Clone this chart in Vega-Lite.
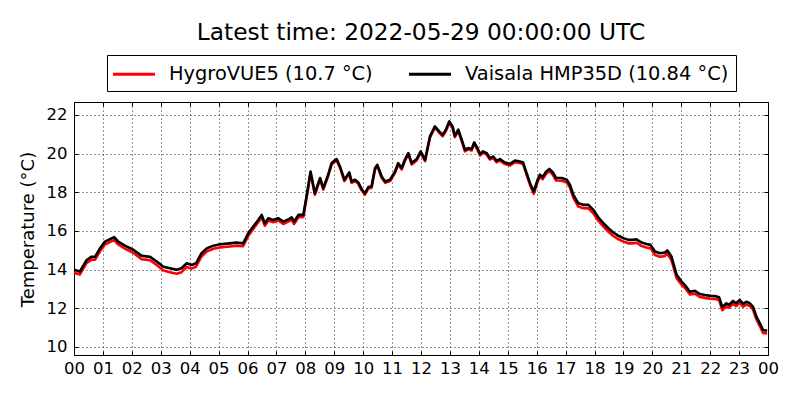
{
  "$schema": "https://vega.github.io/schema/vega-lite/v6.json",
  "autosize": {"type": "none"},
  "width": 694,
  "height": 253,
  "padding": {"left": 74, "top": 102, "right": 32, "bottom": 45},
  "background": "white",
  "config": {
    "font": "DejaVu Sans",
    "view": {"stroke": "black", "strokeWidth": 1}
  },
  "title": {
    "text": "Latest time: 2022-05-29 00:00:00 UTC",
    "fontSize": 23.3,
    "fontWeight": "normal",
    "color": "black",
    "anchor": "middle",
    "baseline": "alphabetic",
    "offset": -9
  },
  "data": {
    "values": [
      {"hour": 0.0, "hygrovue": 13.84, "vaisala": 13.99},
      {"hour": 0.2, "hygrovue": 13.75, "vaisala": 13.9},
      {"hour": 0.44, "hygrovue": 14.35, "vaisala": 14.5},
      {"hour": 0.61, "hygrovue": 14.52, "vaisala": 14.67},
      {"hour": 0.73, "hygrovue": 14.52, "vaisala": 14.67},
      {"hour": 0.9, "hygrovue": 14.95, "vaisala": 15.1},
      {"hour": 1.07, "hygrovue": 15.3, "vaisala": 15.45},
      {"hour": 1.24, "hygrovue": 15.42, "vaisala": 15.57},
      {"hour": 1.39, "hygrovue": 15.53, "vaisala": 15.68},
      {"hour": 1.53, "hygrovue": 15.3, "vaisala": 15.45},
      {"hour": 1.76, "hygrovue": 15.09, "vaisala": 15.24},
      {"hour": 2.05, "hygrovue": 14.87, "vaisala": 15.03},
      {"hour": 2.34, "hygrovue": 14.54, "vaisala": 14.71},
      {"hour": 2.63, "hygrovue": 14.49, "vaisala": 14.67},
      {"hour": 2.86, "hygrovue": 14.24, "vaisala": 14.42},
      {"hour": 3.09, "hygrovue": 13.96, "vaisala": 14.15},
      {"hour": 3.32, "hygrovue": 13.87, "vaisala": 14.07},
      {"hour": 3.55, "hygrovue": 13.79, "vaisala": 13.99},
      {"hour": 3.72, "hygrovue": 13.87, "vaisala": 14.07},
      {"hour": 3.9, "hygrovue": 14.14, "vaisala": 14.33},
      {"hour": 4.07, "hygrovue": 14.05, "vaisala": 14.24},
      {"hour": 4.22, "hygrovue": 14.15, "vaisala": 14.33},
      {"hour": 4.41, "hygrovue": 14.68, "vaisala": 14.85},
      {"hour": 4.59, "hygrovue": 14.94, "vaisala": 15.1},
      {"hour": 4.82, "hygrovue": 15.08, "vaisala": 15.24},
      {"hour": 5.05, "hygrovue": 15.15, "vaisala": 15.31},
      {"hour": 5.39, "hygrovue": 15.2, "vaisala": 15.36},
      {"hour": 5.62, "hygrovue": 15.24, "vaisala": 15.4},
      {"hour": 5.85, "hygrovue": 15.21, "vaisala": 15.36},
      {"hour": 6.03, "hygrovue": 15.76, "vaisala": 15.89},
      {"hour": 6.2, "hygrovue": 16.1, "vaisala": 16.23},
      {"hour": 6.37, "hygrovue": 16.45, "vaisala": 16.57},
      {"hour": 6.49, "hygrovue": 16.71, "vaisala": 16.83},
      {"hour": 6.6, "hygrovue": 16.27, "vaisala": 16.4},
      {"hour": 6.72, "hygrovue": 16.54, "vaisala": 16.66},
      {"hour": 6.89, "hygrovue": 16.45, "vaisala": 16.57},
      {"hour": 7.06, "hygrovue": 16.54, "vaisala": 16.66},
      {"hour": 7.24, "hygrovue": 16.36, "vaisala": 16.48},
      {"hour": 7.41, "hygrovue": 16.48, "vaisala": 16.6},
      {"hour": 7.53, "hygrovue": 16.58, "vaisala": 16.7},
      {"hour": 7.61, "hygrovue": 16.36, "vaisala": 16.48},
      {"hour": 7.76, "hygrovue": 16.71, "vaisala": 16.83},
      {"hour": 7.93, "hygrovue": 16.72, "vaisala": 16.83},
      {"hour": 8.07, "hygrovue": 17.95, "vaisala": 18.04},
      {"hour": 8.18, "hygrovue": 18.99, "vaisala": 19.07},
      {"hour": 8.33, "hygrovue": 17.87, "vaisala": 17.95},
      {"hour": 8.51, "hygrovue": 18.67, "vaisala": 18.74},
      {"hour": 8.62, "hygrovue": 18.14, "vaisala": 18.21},
      {"hour": 8.79, "hygrovue": 18.84, "vaisala": 18.91},
      {"hour": 8.91, "hygrovue": 19.44, "vaisala": 19.51},
      {"hour": 9.08, "hygrovue": 19.65, "vaisala": 19.72},
      {"hour": 9.2, "hygrovue": 19.26, "vaisala": 19.33},
      {"hour": 9.35, "hygrovue": 18.58, "vaisala": 18.65},
      {"hour": 9.52, "hygrovue": 18.96, "vaisala": 19.03},
      {"hour": 9.6, "hygrovue": 18.49, "vaisala": 18.56},
      {"hour": 9.72, "hygrovue": 18.58, "vaisala": 18.65},
      {"hour": 9.83, "hygrovue": 18.44, "vaisala": 18.51},
      {"hour": 9.95, "hygrovue": 18.09, "vaisala": 18.16},
      {"hour": 10.06, "hygrovue": 17.88, "vaisala": 17.95},
      {"hour": 10.18, "hygrovue": 18.2, "vaisala": 18.27},
      {"hour": 10.29, "hygrovue": 18.23, "vaisala": 18.3},
      {"hour": 10.41, "hygrovue": 19.18, "vaisala": 19.25},
      {"hour": 10.49, "hygrovue": 19.35, "vaisala": 19.42},
      {"hour": 10.64, "hygrovue": 18.75, "vaisala": 18.82},
      {"hour": 10.76, "hygrovue": 18.49, "vaisala": 18.56},
      {"hour": 10.93, "hygrovue": 18.58, "vaisala": 18.65},
      {"hour": 11.1, "hygrovue": 19.0, "vaisala": 19.07},
      {"hour": 11.21, "hygrovue": 19.44, "vaisala": 19.51},
      {"hour": 11.33, "hygrovue": 19.18, "vaisala": 19.25},
      {"hour": 11.44, "hygrovue": 19.61, "vaisala": 19.68},
      {"hour": 11.56, "hygrovue": 19.96, "vaisala": 20.03},
      {"hour": 11.68, "hygrovue": 19.44, "vaisala": 19.51},
      {"hour": 11.85, "hygrovue": 19.65, "vaisala": 19.72},
      {"hour": 11.99, "hygrovue": 20.05, "vaisala": 20.12},
      {"hour": 12.14, "hygrovue": 19.61, "vaisala": 19.68},
      {"hour": 12.31, "hygrovue": 20.82, "vaisala": 20.89},
      {"hour": 12.48, "hygrovue": 21.34, "vaisala": 21.41},
      {"hour": 12.63, "hygrovue": 21.08, "vaisala": 21.15},
      {"hour": 12.75, "hygrovue": 20.9, "vaisala": 20.97},
      {"hour": 12.86, "hygrovue": 21.17, "vaisala": 21.24},
      {"hour": 12.98, "hygrovue": 21.6, "vaisala": 21.67},
      {"hour": 13.09, "hygrovue": 21.34, "vaisala": 21.41},
      {"hour": 13.17, "hygrovue": 20.85, "vaisala": 20.92},
      {"hour": 13.29, "hygrovue": 21.17, "vaisala": 21.24},
      {"hour": 13.41, "hygrovue": 20.64, "vaisala": 20.71},
      {"hour": 13.52, "hygrovue": 20.12, "vaisala": 20.2},
      {"hour": 13.63, "hygrovue": 20.22, "vaisala": 20.29},
      {"hour": 13.75, "hygrovue": 20.16, "vaisala": 20.24},
      {"hour": 13.84, "hygrovue": 20.51, "vaisala": 20.58},
      {"hour": 13.95, "hygrovue": 20.21, "vaisala": 20.29},
      {"hour": 14.04, "hygrovue": 19.9, "vaisala": 19.98},
      {"hour": 14.15, "hygrovue": 20.05, "vaisala": 20.12},
      {"hour": 14.27, "hygrovue": 19.95, "vaisala": 20.03},
      {"hour": 14.38, "hygrovue": 19.7, "vaisala": 19.77},
      {"hour": 14.5, "hygrovue": 19.77, "vaisala": 19.85},
      {"hour": 14.61, "hygrovue": 19.55, "vaisala": 19.63},
      {"hour": 14.73, "hygrovue": 19.64, "vaisala": 19.72},
      {"hour": 14.9, "hygrovue": 19.46, "vaisala": 19.54},
      {"hour": 15.08, "hygrovue": 19.39, "vaisala": 19.47},
      {"hour": 15.25, "hygrovue": 19.56, "vaisala": 19.64},
      {"hour": 15.42, "hygrovue": 19.51, "vaisala": 19.59},
      {"hour": 15.53, "hygrovue": 19.46, "vaisala": 19.54},
      {"hour": 15.65, "hygrovue": 18.91, "vaisala": 19.0},
      {"hour": 15.77, "hygrovue": 18.38, "vaisala": 18.47},
      {"hour": 15.9, "hygrovue": 17.92, "vaisala": 18.04},
      {"hour": 16.03, "hygrovue": 18.53, "vaisala": 18.64},
      {"hour": 16.11, "hygrovue": 18.8, "vaisala": 18.91},
      {"hour": 16.21, "hygrovue": 18.68, "vaisala": 18.79},
      {"hour": 16.33, "hygrovue": 18.96, "vaisala": 19.08},
      {"hour": 16.44, "hygrovue": 19.09, "vaisala": 19.21},
      {"hour": 16.56, "hygrovue": 18.9, "vaisala": 19.03},
      {"hour": 16.67, "hygrovue": 18.61, "vaisala": 18.74},
      {"hour": 16.87, "hygrovue": 18.6, "vaisala": 18.74},
      {"hour": 17.04, "hygrovue": 18.5, "vaisala": 18.65},
      {"hour": 17.15, "hygrovue": 18.24, "vaisala": 18.39},
      {"hour": 17.27, "hygrovue": 17.71, "vaisala": 17.87},
      {"hour": 17.44, "hygrovue": 17.26, "vaisala": 17.43},
      {"hour": 17.61, "hygrovue": 17.18, "vaisala": 17.35},
      {"hour": 17.79, "hygrovue": 17.17, "vaisala": 17.35},
      {"hour": 17.96, "hygrovue": 16.91, "vaisala": 17.09},
      {"hour": 18.13, "hygrovue": 16.53, "vaisala": 16.71},
      {"hour": 18.31, "hygrovue": 16.22, "vaisala": 16.4},
      {"hour": 18.48, "hygrovue": 15.96, "vaisala": 16.14},
      {"hour": 18.65, "hygrovue": 15.74, "vaisala": 15.92},
      {"hour": 18.83, "hygrovue": 15.57, "vaisala": 15.75},
      {"hour": 19.0, "hygrovue": 15.45, "vaisala": 15.63},
      {"hour": 19.17, "hygrovue": 15.36, "vaisala": 15.54},
      {"hour": 19.34, "hygrovue": 15.36, "vaisala": 15.54},
      {"hour": 19.45, "hygrovue": 15.39, "vaisala": 15.57},
      {"hour": 19.63, "hygrovue": 15.22, "vaisala": 15.4},
      {"hour": 19.8, "hygrovue": 15.15, "vaisala": 15.33},
      {"hour": 19.94, "hygrovue": 15.1, "vaisala": 15.28},
      {"hour": 20.09, "hygrovue": 14.76, "vaisala": 14.94},
      {"hour": 20.26, "hygrovue": 14.67, "vaisala": 14.85},
      {"hour": 20.43, "hygrovue": 14.7, "vaisala": 14.88},
      {"hour": 20.52, "hygrovue": 14.81, "vaisala": 14.99},
      {"hour": 20.66, "hygrovue": 14.5, "vaisala": 14.68},
      {"hour": 20.84, "hygrovue": 13.56, "vaisala": 13.73},
      {"hour": 21.01, "hygrovue": 13.22, "vaisala": 13.38},
      {"hour": 21.12, "hygrovue": 13.06, "vaisala": 13.21},
      {"hour": 21.3, "hygrovue": 12.71, "vaisala": 12.86},
      {"hour": 21.47, "hygrovue": 12.76, "vaisala": 12.91},
      {"hour": 21.64, "hygrovue": 12.59, "vaisala": 12.74},
      {"hour": 21.82, "hygrovue": 12.54, "vaisala": 12.69},
      {"hour": 21.99, "hygrovue": 12.5, "vaisala": 12.65},
      {"hour": 22.16, "hygrovue": 12.49, "vaisala": 12.64},
      {"hour": 22.31, "hygrovue": 12.42, "vaisala": 12.57},
      {"hour": 22.42, "hygrovue": 11.9, "vaisala": 12.06},
      {"hour": 22.56, "hygrovue": 12.1, "vaisala": 12.26},
      {"hour": 22.65, "hygrovue": 12.03, "vaisala": 12.18},
      {"hour": 22.79, "hygrovue": 12.23, "vaisala": 12.38},
      {"hour": 22.9, "hygrovue": 12.11, "vaisala": 12.26},
      {"hour": 23.02, "hygrovue": 12.28, "vaisala": 12.43},
      {"hour": 23.14, "hygrovue": 12.08, "vaisala": 12.23},
      {"hour": 23.25, "hygrovue": 12.19, "vaisala": 12.34},
      {"hour": 23.37, "hygrovue": 12.11, "vaisala": 12.26},
      {"hour": 23.48, "hygrovue": 11.94, "vaisala": 12.09},
      {"hour": 23.6, "hygrovue": 11.42, "vaisala": 11.57},
      {"hour": 23.72, "hygrovue": 11.07, "vaisala": 11.22},
      {"hour": 23.83, "hygrovue": 10.73, "vaisala": 10.88},
      {"hour": 23.97, "hygrovue": 10.7, "vaisala": 10.84}
    ]
  },
  "layer": [
    {
      "mark": {"type": "line", "strokeWidth": 2.6, "strokeJoin": "round"},
      "encoding": {
        "x": {
          "field": "hour",
          "type": "quantitative",
          "scale": {"domain": [0, 24], "nice": false, "zero": false},
          "axis": {
            "title": null,
            "values": [0, 1, 2, 3, 4, 5, 6, 7, 8, 9, 10, 11, 12, 13, 14, 15, 16, 17, 18, 19, 20, 21, 22, 23, 24],
            "format": "02d",
            "labelExpr": "datum.value == 24 ? '00' : datum.label",
            "labelFontSize": 16.5,
            "labelColor": "black",
            "labelFlush": false,
            "labelOverlap": false,
            "labelPadding": 9,
            "domain": false,
            "tickSize": -4,
            "tickColor": "black",
            "grid": true,
            "gridColor": "black",
            "gridDash": [1, 3],
            "gridOpacity": 0.85
          }
        },
        "y": {
          "field": "hygrovue",
          "type": "quantitative",
          "scale": {"domain": [9.585, 22.67], "nice": false, "zero": false},
          "axis": {
            "title": "Temperature (°C)",
            "titleFontSize": 18,
            "titleFontWeight": "normal",
            "titleColor": "black",
            "titleX": -46,
            "titleY": 127,
            "titleBaseline": "middle",
            "titleAngle": -90,
            "values": [10, 12, 14, 16, 18, 20, 22],
            "labelFontSize": 16.5,
            "labelColor": "black",
            "labelFlush": false,
            "labelPadding": 11,
            "domain": false,
            "tickSize": -4,
            "tickColor": "black",
            "grid": true,
            "gridColor": "black",
            "gridDash": [1, 3],
            "gridOpacity": 0.85
          }
        },
        "color": {
          "datum": "HygroVUE5 (10.7 °C)",
          "type": "nominal",
          "scale": {
            "domain": ["HygroVUE5 (10.7 °C)", "Vaisala HMP35D (10.84 °C)"],
            "range": ["#ff0000", "#000000"]
          },
          "legend": {
            "title": null,
            "orient": "none",
            "legendX": 33,
            "legendY": -47,
            "direction": "horizontal",
            "symbolType": "M-2,0H2",
            "symbolSize": 441,
            "symbolStrokeWidth": 3,
            "symbolOffset": 8,
            "labelOffset": 23,
            "labelFontSize": 19.4,
            "labelColor": "black",
            "labelLimit": 400,
            "columnPadding": 30,
            "padding": 7,
            "strokeColor": "black",
            "fillColor": "white",
            "cornerRadius": 0
          }
        }
      }
    },
    {
      "mark": {"type": "line", "strokeWidth": 2.6, "strokeJoin": "round"},
      "encoding": {
        "x": {
          "field": "hour",
          "type": "quantitative",
          "scale": {"domain": [0, 24], "nice": false, "zero": false},
          "axis": {
            "orient": "top",
            "title": null,
            "values": [0, 1, 2, 3, 4, 5, 6, 7, 8, 9, 10, 11, 12, 13, 14, 15, 16, 17, 18, 19, 20, 21, 22, 23, 24],
            "labels": false,
            "domain": false,
            "grid": false,
            "tickSize": -4,
            "tickColor": "black"
          }
        },
        "y": {
          "field": "vaisala",
          "type": "quantitative",
          "scale": {"domain": [9.585, 22.67], "nice": false, "zero": false},
          "axis": {
            "orient": "right",
            "title": null,
            "values": [10, 12, 14, 16, 18, 20, 22],
            "labels": false,
            "domain": false,
            "grid": false,
            "tickSize": -4,
            "tickColor": "black"
          }
        },
        "color": {"datum": "Vaisala HMP35D (10.84 °C)", "type": "nominal"}
      }
    }
  ],
  "resolve": {"axis": {"x": "independent", "y": "independent"}}
}
